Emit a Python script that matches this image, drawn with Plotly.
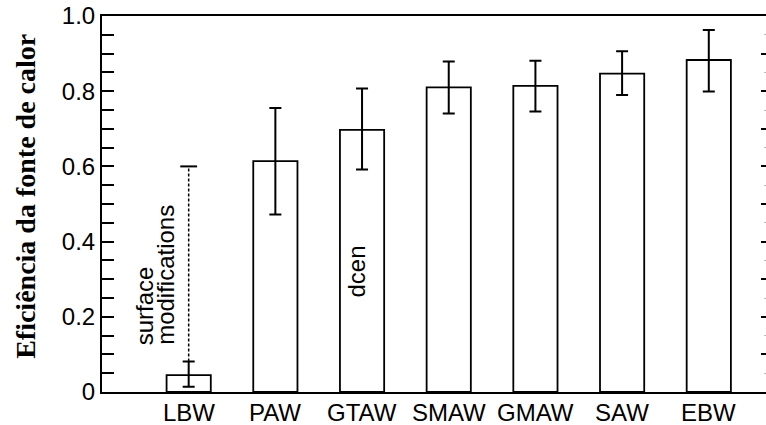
import plotly.graph_objects as go

categories = ["LBW", "PAW", "GTAW", "SMAW", "GMAW", "SAW", "EBW"]
efficiency = [0.045, 0.614, 0.697, 0.810, 0.814, 0.847, 0.883]
err_upper = [0.081, 0.755, 0.807, 0.879, 0.881, 0.906, 0.963]
err_lower = [0.014, 0.472, 0.592, 0.741, 0.746, 0.790, 0.799]
lbw_surface_top = 0.60
ytick_vals = [0, 0.2, 0.4, 0.6, 0.8, 1.0]
ytick_text = ["0", "0.2", "0.4", "0.6", "0.8", "1.0"]

plus = [u - v for u, v in zip(err_upper, efficiency)]
minus = [v - l for v, l in zip(efficiency, err_lower)]

fig = go.Figure()
fig.add_trace(go.Bar(
    x=categories, y=efficiency, width=0.51,
    marker=dict(color="white", line=dict(color="black", width=1.8)),
    error_y=dict(type="data", symmetric=False, array=plus, arrayminus=minus,
                 color="black", thickness=2, width=6),
    showlegend=False,
))
# dashed extension for LBW (surface modifications)
fig.add_trace(go.Scatter(
    x=[categories[0], categories[0]], y=[err_upper[0], lbw_surface_top],
    mode="lines", line=dict(color="black", width=1.5, dash="3px,2px"),
    showlegend=False,
))
fig.add_trace(go.Scatter(
    x=[categories[0]], y=[lbw_surface_top], mode="markers",
    marker=dict(symbol="line-ew", size=12, line=dict(color="black", width=2)),
    showlegend=False,
))
# invisible trace for right axis
fig.add_trace(go.Scatter(x=[categories[0]], y=[0], yaxis="y2", mode="markers",
                         marker=dict(opacity=0), showlegend=False, hoverinfo="skip"))

fig.update_layout(
    template="none",
    width=766, height=425,
    margin=dict(l=102, r=0, t=16, b=33, pad=0),
    plot_bgcolor="white", paper_bgcolor="white",
    font=dict(family="Liberation Sans, Arial, sans-serif", size=24, color="black"),
    xaxis=dict(type="category", categoryorder="array", categoryarray=categories,
               range=[-1, 6.66], showgrid=False, zeroline=False, automargin=False,
               showline=True, linecolor="black", linewidth=2, mirror=True,
               ticks="", showticklabels=False),
    yaxis=dict(range=[0, 1.0], showgrid=False, zeroline=False, automargin=False,
               showline=True, linecolor="black", linewidth=2,
               ticks="inside", ticklen=12, tickwidth=1.5, tickcolor="black",
               tickvals=ytick_vals, ticktext=ytick_text, tickfont=dict(size=24),
               ticklabelstandoff=0,
               minor=dict(dtick=0.05, ticks="inside", ticklen=12, tickwidth=1.5,
                          tickcolor="black")),
    yaxis2=dict(range=[0, 1.0], overlaying="y", side="right", anchor="free",
                position=1, showgrid=False, zeroline=False, showline=False,
                automargin=False,
                showticklabels=False, ticks="inside", ticklen=5, tickwidth=2,
                tickcolor="black", dtick=0.1, tick0=0,
                minor=dict(dtick=0.05, ticks="inside", ticklen=2, tickwidth=1,
                           tickcolor="#bbbbbb")),
)

# category labels under the axis
for c in categories:
    fig.add_annotation(text=c, x=c, y=0, xref="x", yref="paper",
                       xanchor="center", yanchor="top", yshift=-5,
                       showarrow=False, font=dict(size=24))

fig.add_annotation(text="<b>Eficiência da fonte de calor</b>", xref="paper", yref="paper",
                   x=0, y=0.519, xanchor="center", yanchor="middle", xshift=-76,
                   textangle=-90, showarrow=False,
                   font=dict(family="Liberation Serif, Times New Roman, serif",
                             size=28, color="black"))
fig.add_annotation(text="surface", x=-0.516, y=0.12, xref="x", yref="y",
                   xanchor="center", yanchor="bottom", textangle=-90,
                   showarrow=False, font=dict(size=24))
fig.add_annotation(text="modifications", x=-0.262, y=0.12, xref="x", yref="y",
                   xanchor="center", yanchor="bottom", textangle=-90,
                   showarrow=False, font=dict(size=24))
fig.add_annotation(text="dcen", x=1.94, y=0.32, xref="x", yref="y",
                   xanchor="center", yanchor="middle", textangle=-90,
                   showarrow=False, font=dict(size=24))

# remove the browser's default 8px body margin so the figure fills the window
fig.write_html("out.html", config={"displayModeBar": False},
               post_script="document.body.style.margin='0';")
